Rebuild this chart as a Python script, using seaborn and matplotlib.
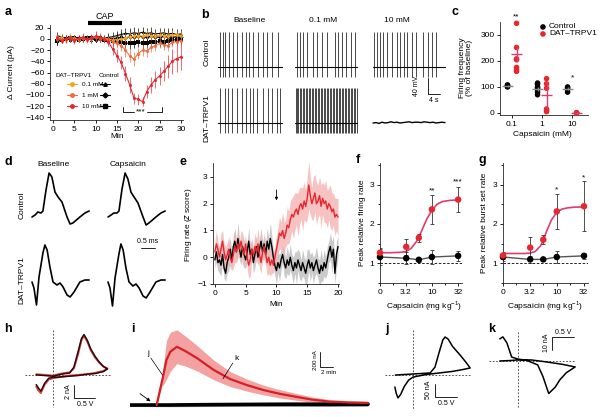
import numpy as np
import matplotlib
matplotlib.use('Agg')
import matplotlib.pyplot as plt
import matplotlib.transforms as mtransforms
import seaborn as sns

sns.set_theme(style='ticks')
plt.rcParams['font.family'] = ['Liberation Sans', 'DejaVu Sans']
plt.rcParams['text.color'] = 'black'
plt.rcParams['axes.labelcolor'] = 'black'
plt.rcParams['xtick.color'] = 'black'
plt.rcParams['ytick.color'] = 'black'
plt.rcParams['axes.linewidth'] = 0.6

# ---------------- data ----------------
# a: change in current over time (min)
minutes = list(range(1, 31))
dat_10 = [2, -3, 0, 2, -2, 1, 3, 0, 2, 5, 3, 0, -5, -18, -30, -42, -62, -82, -106, -108,
          -112, -94, -82, -73, -66, -58, -49, -40, -35, -32]
dat_10_err = [6, 5, 7, 6, 5, 6, 8, 6, 7, 9, 8, 7, 8, 10, 12, 12, 14, 14, 10, 10,
              8, 12, 14, 15, 16, 18, 20, 22, 24, 24]
dat_1 = [3, -2, 0, 2, -3, 0, 2, -1, 1, 4, 2, 0, -2, -5, -8, -12, -20, -30, -36, -26,
         -20, -22, -15, -12, -8, -10, -12, -6, -5, -3]
dat_1_err = [6, 5, 6, 5, 6, 5, 7, 6, 6, 8, 7, 6, 7, 8, 9, 10, 12, 12, 12, 10,
             10, 10, 9, 9, 8, 9, 9, 8, 8, 8]
dat_01 = [0, 2, -2, 3, 1, -1, 2, 0, 1, 3, 2, 1, 0, -2, -1, 0, 2, 4, 5, 6,
          5, 8, 6, 5, 7, 6, 5, 8, 7, 6]
dat_01_err = [5, 6, 5, 7, 6, 5, 6, 5, 6, 7, 6, 5, 6, 7, 6, 7, 8, 8, 7, 8,
              7, 8, 7, 8, 7, 8, 7, 8, 7, 8]
ctl_01 = [6, 3, 1, -1, 2, 3, 0, 2, -1, 0, 2, 1, 3, 4, 6, 8, 10, 9, 11, 10,
          12, 10, 11, 9, 10, 11, 9, 10, 8, 9]
ctl_1 = [-4, -2, 1, 0, -2, 1, 2, 0, 1, -1, 0, 2, 1, 0, 2, 3, 2, 4, 3, 5,
         4, 3, 5, 4, 3, 5, 4, 3, 4, 3]
ctl_10 = [-3, -1, 0, 2, 1, -1, 0, 1, 2, 0, 1, -1, -2, -3, -4, -6, -7, -8, -7, -6,
          -8, -7, -5, -6, -4, -5, -3, -2, -1, 0]
ctl_err = [7, 6, 6, 5, 6, 5, 6, 5, 6, 5, 6, 5, 7, 8, 8, 9, 9, 10, 10, 9,
           10, 9, 10, 9, 10, 9, 10, 9, 10, 9]

# b: spike times (s) in each 20 s sweep
ctl_base_spk = [0.7, 1.7, 2.3, 3.7, 5.0, 6.3, 8.0, 9.3, 10.3, 11.7, 13.3, 15.0, 16.3, 18.0, 20.0]
ctl_01_spk = [0.7, 1.7, 2.7, 4.0, 6.0, 7.3, 9.0, 10.7, 13.3, 14.3, 15.7, 17.0, 18.7, 20.0]
ctl_10_spk = [0.3, 1.3, 2.3, 3.3, 4.7, 6.3, 8.0, 9.0, 10.3, 11.3, 13.0, 14.3, 16.7, 18.3, 19.7, 21.0]
dat_base_spk = [0.7, 2.3, 3.3, 4.7, 6.3, 8.0, 9.3, 10.7, 11.7, 13.0, 15.0, 16.7, 18.0, 19.7, 20.7]
dat_01_spk = [0.2, 0.6, 1.1, 1.5, 2.0, 2.6, 3.0, 3.5, 4.1, 4.6, 5.0, 5.5, 6.1, 6.5, 7.0, 7.6,
              8.1, 8.5, 9.0, 9.6, 10.1, 10.5, 11.0, 11.6, 12.1, 12.5, 13.0, 13.6, 14.1, 14.5,
              15.1, 15.6, 16.0, 16.5, 17.1, 17.6, 18.0, 18.6, 19.1, 19.5, 20.0, 20.5]
dat_10_vm = [0, 1, -1, 2, 0, 1, 3, 1, 2, 0, 1, 2, 3, 1, 2, 2, 1, 3, 2, 1, 2, 0, 1, 2, 1]

# c: firing frequency (% of baseline)
conc_labels = ['0.1', '1', '10']
ctl_freq = [[108, 105, 103, 100, 102], [115, 110, 100, 95, 90, 80, 70], [100, 96, 90, 80]]
dat_freq = [[345, 252, 208, 205, 175, 165, 160], [132, 112, 95, 15, 10, 5], [0, 0, 0, 0]]
ctl_mean = [105, 92, 94]
ctl_sem = [4, 9, 5]
dat_mean = [225, 68, 0]
dat_sem = [30, 52, 3]

# d: action potential waveforms (ms, a.u.)
ap_ctl_t = [0, 0.11, 0.21, 0.32, 0.39, 0.5, 0.61, 0.71, 0.82, 0.93, 1.07, 1.25, 1.36, 1.46, 1.71, 1.89, 2.04]
ap_ctl_base = [0, 0.05, 0.125, 0.1, 0.15, 0.675, 1.1, 1.0, 0.625, 0.5, 0.375, 0, -0.175, -0.15, 0, 0.1, 0.15]
ap_ctl_cap = [0, 0.05, 0.1, 0.1, 0.15, 0.7, 1.1, 0.95, 0.62, 0.5, 0.35, 0, -0.2, -0.15, 0, 0.1, 0.15]
ap_dat_t = [0, 0.07, 0.16, 0.25, 0.39, 0.46, 0.54, 0.64, 0.75, 0.89, 1.0, 1.11, 1.25, 1.36, 1.5, 1.71, 1.89, 2.04]
ap_dat_base = [0, -0.15, -0.575, 0.125, 0.725, 0.925, 0.8, 0.375, 0, -0.075, -0.025, -0.125, -0.325, -0.375, -0.25, 0, 0.05, 0.05]
ap_dat_cap = [0, -0.15, -0.6, 0.1, 0.7, 0.95, 0.8, 0.35, 0, -0.1, -0.05, -0.15, -0.35, -0.4, -0.25, 0, 0.05, 0.05]

# e: firing rate z score, 0.25 min bins
e_red = [0.2, 0.5, 0.3, 0.0, 0.3, 0.6, 0.2, -0.1, 0.1,
         0.3, 0.0, -0.2, 0.1, 0.4, 0.2, 0.5, 0.3,
         0.6, 0.3, 0.1, 0.5, 0.0, -0.3, -0.1, 0.3,
         0.1, 0.4, 0.2, 0.5, 0.1, -0.2, 0.2, 0.4,
         0.1, -0.2, 0.0, -0.3, -0.1, -0.3, 0.0, 0.3,
         0.6, 0.9, 0.8, 1.0, 0.7, 0.9, 1.2, 1.1,
         1.4, 1.6, 1.5, 1.7, 1.8, 1.6, 1.9, 2.0,
         1.8, 2.1, 1.9, 2.2, 2.7, 2.3, 2.0, 2.2,
         2.4, 2.0, 2.1, 2.3, 1.9, 2.2, 2.0, 2.1,
         1.8, 2.0, 1.9, 1.7, 1.8, 1.5, 1.6, 1.5]
e_black = [-0.1, 0.2, -0.2, -0.1, -0.3, 0.1, -0.4, -0.6, -0.2,
           0.0, 0.3, -0.1, 0.4, 0.6, 0.2, 0.7, 0.3,
           0.0, 0.4, 0.1, -0.1, 0.2, 0.6, 0.1, 0.3,
           -0.2, 0.1, 0.4, 0.0, 0.3, 0.6, 0.2, 0.5,
           0.1, 0.6, 0.3, 0.7, 0.4, 0.0, -0.3, -0.5,
           -0.2, -0.4, -0.1, 0.1, -0.2, -0.4, -0.1, -0.3,
           0.0, -0.3, -0.5, -0.2, -0.4, -0.1, -0.3, -0.5,
           -0.2, -0.4, -0.6, -0.3, -0.1, -0.4, -0.2, -0.5,
           -0.3, -0.1, -0.4, -0.6, -0.3, -0.5, -0.2, -0.4,
           -0.1, 0.2, 0.4, 0.0, 0.3, -0.6, 0.1, 0.4]
e_red_err = [0.4, 0.5, 0.3, 0.4, 0.6, 0.4, 0.3, 0.5, 0.4,
             0.5, 0.4, 0.3, 0.5, 0.6, 0.4, 0.5, 0.3,
             0.4, 0.6, 0.5, 0.3, 0.4, 0.5, 0.6, 0.4,
             0.3, 0.5, 0.4, 0.6, 0.5, 0.4, 0.3, 0.5,
             0.4, 0.5, 0.6, 0.4, 0.5, 0.3, 0.4, 0.5,
             0.5, 0.6, 0.5, 0.7, 0.6, 0.5, 0.7, 0.6,
             0.7, 0.6, 0.8, 0.7, 0.6, 0.8, 0.7, 0.6,
             0.8, 0.7, 0.6, 0.8, 0.9, 0.7, 0.6, 0.8,
             0.7, 0.8, 0.6, 0.7, 0.8, 0.6, 0.7, 0.8,
             0.7, 0.6, 0.8, 0.7, 0.6, 0.7, 0.6, 0.7]
e_black_err = [0.3, 0.4, 0.3, 0.5, 0.4, 0.3, 0.4, 0.3, 0.4,
               0.5, 0.4, 0.3, 0.4, 0.5, 0.4, 0.6, 0.4,
               0.3, 0.4, 0.5, 0.3, 0.4, 0.5, 0.4, 0.3,
               0.4, 0.5, 0.4, 0.3, 0.4, 0.5, 0.4, 0.3,
               0.4, 0.5, 0.4, 0.6, 0.4, 0.3, 0.4, 0.5,
               0.4, 0.5, 0.4, 0.3, 0.5, 0.4, 0.5, 0.4,
               0.5, 0.4, 0.5, 0.4, 0.6, 0.4, 0.5, 0.4,
               0.5, 0.4, 0.5, 0.6, 0.4, 0.5, 0.4, 0.5,
               0.4, 0.5, 0.4, 0.5, 0.6, 0.4, 0.5, 0.4,
               0.5, 0.4, 0.5, 0.6, 0.5, 0.4, 0.5, 0.4]

# f, g: dose response (mg/kg)
doses = [0, 3.2, 5.6, 10, 32]
f_red = [1.27, 1.42, 1.65, 2.37, 2.62]
f_red_err = [0.13, 0.2, 0.1, 0.36, 0.32]
f_black = [1.16, 1.13, 1.09, 1.16, 1.19]
f_black_err = [0.2, 0.15, 0.05, 0.18, 0.12]
g_red = [1.2, 1.4, 1.6, 2.32, 2.45]
g_red_err = [0.08, 0.27, 0.12, 0.45, 0.63]
g_black = [1.16, 1.1, 1.1, 1.16, 1.19]
g_black_err = [0.1, 0.08, 0.05, 0.16, 0.08]
fit_logdose = [0, 0.2, 0.4, 0.5, 0.6, 0.7, 0.75, 0.8, 0.9, 1.0, 1.1, 1.2, 1.35, 1.5]
fit_f = [1.27, 1.27, 1.28, 1.3, 1.38, 1.55, 1.67, 1.82, 2.12, 2.35, 2.5, 2.57, 2.6, 2.61]
fit_g = [1.25, 1.25, 1.25, 1.26, 1.3, 1.45, 1.58, 1.78, 2.1, 2.3, 2.38, 2.41, 2.43, 2.43]

# h, j, k: cyclic voltammograms (V, nA)
h_V = [-0.40, -0.20, 0.00, 0.20, 0.40, 0.50, 0.60, 0.68, 0.74, 0.82, 0.90, 1.00, 1.10, 1.20,
       1.30, 1.20, 1.00, 0.80, 0.60, 0.40, 0.20, 0.00, -0.10, -0.20, -0.29, -0.35, -0.40]
h_black = [0.0, -0.1, -0.2, 0.1, 0.3, 1.2, 3.6, 5.6, 6.2, 5.3, 4.0, 2.9, 2.0, 1.3,
           0.9, 0.5, 0.2, 0.1, -0.1, -0.2, -0.3, -0.4, -0.5, -1.3, -2.5, -2.0, -1.5]
h_red = [0.1, 0.0, -0.1, 0.2, 0.4, 1.0, 3.2, 5.3, 6.0, 5.1, 3.8, 2.7, 1.9, 1.3,
         1.0, 0.6, 0.3, 0.1, 0.0, -0.1, -0.3, -0.5, -0.7, -1.5, -2.8, -2.4, -1.8]
j_V = [-0.40, -0.20, 0.00, 0.20, 0.39, 0.50, 0.60, 0.68, 0.73, 0.80, 0.90, 1.07, 1.20, 1.30,
       1.10, 0.90, 0.60, 0.30, 0.00, -0.10, -0.20, -0.28, -0.34, -0.38, -0.41]
j_I = [0, 2, 4, 6, 8, 30, 90, 135, 146, 138, 110, 77, 50, 27,
       20, 14, 8, 2, -8, -20, -45, -75, -88, -70, -46]
k_V = [-0.41, -0.34, -0.25, -0.14, 0.00, 0.20, 0.45, 0.57, 0.70, 0.85, 0.95, 1.10, 1.30,
       1.00, 0.60, 0.30, 0.00, -0.20, -0.41]
k_I = [17, 18.5, 14, 3, 1.5, 0.5, -3, -12, -25, -20, -14.6, -9, -4.6,
       -2.5, -0.5, 0.8, 0.8, 0.3, 0]

# i: dopamine current over time (min, nA)
i_t = [4.1, 4.9, 5.1, 5.6, 6.2, 7.2, 8.5, 10.3, 12.9, 15.4, 18.0, 20.5, 23.0, 25.7, 28.0, 30.8, 33.8, 36.6]
i_red = [0, 311, 387, 600, 710, 777, 720, 625, 466, 346, 265, 200, 150, 107, 72, 44, 33, 27]
i_sem = [0, 60, 120, 260, 260, 225, 200, 170, 130, 100, 80, 65, 55, 45, 35, 28, 25, 25]
i_black_t = [0, 6, 12, 18, 24, 30, 36.6]
i_black = [0, 0, 5, 8, 10, 10, 12]
i_black_sem = [20, 22, 25, 25, 28, 30, 30]

RED = '#e8262d'
PINK = '#dd3d6e'

# ---------------- figure ----------------
W, H = 600, 417
fig = plt.figure(figsize=(6, 4.17), dpi=100)
PX = mtransforms.Affine2D().scale(1 / W, -1 / H).translate(0, 1) + fig.transFigure


def add_ax(x0, y0, x1, y1):
    return fig.add_axes([x0 / W, 1 - y1 / H, (x1 - x0) / W, (y1 - y0) / H])


def txt(x, y, s, **kw):
    kw.setdefault('ha', 'center')
    kw.setdefault('va', 'center')
    kw.setdefault('fontsize', 6)
    fig.text(x, y, s, transform=PX, **kw)


def style(ax):
    sns.despine(ax=ax)
    ax.tick_params(direction='out', length=2.5, width=0.6, labelsize=6, pad=1.5)
    ax.tick_params(which='minor', length=1.5, width=0.6)
    ax.set_facecolor('none')


def labels(ax, xl, xpos, yl, ypos):
    if xl:
        ax.set_xlabel(xl, fontsize=6, va='center', ha='center')
        ax.xaxis.set_label_coords(*xpos, transform=PX)
    if yl:
        ax.set_ylabel(yl, fontsize=6, va='center', ha='center', linespacing=1.1)
        ax.yaxis.set_label_coords(*ypos, transform=PX)


for letter, (lx, ly) in {'a': (8, 12), 'b': (205, 15), 'c': (455, 12), 'd': (8, 162),
                         'e': (183, 162), 'f': (358, 160), 'g': (482, 160), 'h': (8, 329),
                         'i': (133, 329), 'j': (387, 329), 'k': (492, 329)}.items():
    txt(lx, ly, letter, fontsize=9, fontweight='bold')

# ---- a ----
ax = add_ax(50, 25, 183, 120)
style(ax)
series_a = [(ctl_10, ctl_err, 'black', 's'), (ctl_1, ctl_err, 'black', 'D'),
            (ctl_01, ctl_err, 'black', '^'), (dat_01, dat_01_err, '#f5a31a', 'o'),
            (dat_1, dat_1_err, '#f26a3d', 'o'), (dat_10, dat_10_err, RED, 'o')]
for vals, err, col, mk in series_a:
    v = np.array(vals)
    e = np.array(err)
    ax.vlines(minutes, v - e, v + e, color=col, lw=0.6, alpha=0.8)
    sns.lineplot(x=minutes, y=vals, ax=ax, color=col, lw=0.8, marker=mk, markersize=2.2,
                 markeredgewidth=0)
ax.set_xlim(-0.7, 30.5)
ax.set_ylim(-145, 25)
ax.set_xticks(range(0, 31, 5))
ax.set_yticks(range(-140, 21, 20))
labels(ax, 'Min', (117, 137), 'Δ Current (pA)', (12, 72))
ax.plot([8.2, 16.2], [28.6, 28.6], color='black', lw=3, clip_on=False, solid_capstyle='butt')
ax.text(12.2, 41, 'CAP', ha='center', va='center', fontsize=6.5)
# legend
ax.text(0.6, -66, 'DAT–TRPV1', fontsize=4.6, va='center')
ax.text(10.6, -66, 'Control', fontsize=4.6, va='center')
for (name, col, mk, yv) in [('0.1 mM', '#f5a31a', '^', -80.6), ('1 mM', '#f26a3d', 'D', -100.3),
                            ('10 mM', RED, 's', -120)]:
    ax.plot([3.3, 5.6], [yv, yv], color=col, lw=0.8)
    ax.plot([4.45], [yv], color=col, marker='o', ms=2.5)
    ax.text(6.8, yv, name, fontsize=4.6, va='center')
    ax.plot([11.0, 13.4], [yv, yv], color='black', lw=0.8)
    ax.plot([12.2], [yv], color='black', marker=mk, ms=2.5)
ax.plot([16.4, 16.4, 19.0], [-122, -131, -131], color='black', lw=0.6)
ax.plot([22.0, 25.6, 25.6], [-131, -131, -122], color='black', lw=0.6)
ax.text(20.5, -131, '***', ha='center', va='center', fontsize=6)

# ---- b ----
ax = add_ax(215, 28, 450, 140)
ax.set_axis_off()
ax.set_xlim(-1, 77.33)
ax.set_ylim(-182.5, 97.5)
sweeps = [(0, 21.3, ctl_base_spk, 0), (25.67, 20.7, ctl_01_spk, 0), (51.67, 24, ctl_10_spk, 0),
          (0, 21.3, dat_base_spk, -140), (25.67, 20.7, dat_01_spk, -140)]
for start, dur, spk, off in sweeps:
    ax.plot([start, start + dur], [off, off], color='black', lw=0.8)
    ax.vlines(start + np.array(spk), off - 25, off + 88, color='black', lw=0.5)
ax.plot(51.67 + np.linspace(0, 24, len(dat_10_vm)), -140 + np.array(dat_10_vm),
        color='black', lw=1.0)
ax.plot([70, 70, 74], [-27.5, -67.5, -67.5], color='black', lw=0.6)
ax.text(66, -47.5, '40 mV', rotation=90, ha='center', va='center', fontsize=5)
ax.text(72, -85, '4 s', ha='center', va='center', fontsize=5)
txt(250, 20, 'Baseline')
txt(323, 20, '0.1 mM')
txt(397, 20, '10 mM')
txt(207, 52, 'Control', rotation=90)
txt(207, 118, 'DAT–TRPV1', rotation=90)

# ---- c ----
ax = add_ax(500, 22, 588, 115)
style(ax)
for i, (cf, df) in enumerate(zip(ctl_freq, dat_freq)):
    sns.scatterplot(x=[i - 0.15] * len(cf), y=cf, ax=ax, color='black', s=16,
                    edgecolor='none', zorder=3)
    sns.scatterplot(x=[i + 0.15] * len(df), y=df, ax=ax, color=RED, s=16,
                    edgecolor='none', zorder=3, clip_on=False)
    ax.hlines(ctl_mean[i], i - 0.32, i + 0.02, color='#8a8a8a', lw=1.0, zorder=4)
    ax.vlines(i - 0.15, ctl_mean[i] - ctl_sem[i], ctl_mean[i] + ctl_sem[i], color='#8a8a8a',
              lw=1.0, zorder=4)
    ax.hlines(dat_mean[i], i - 0.02, i + 0.32, color=PINK, lw=1.0, zorder=4, clip_on=False)
    ax.vlines(i + 0.15, dat_mean[i] - dat_sem[i], dat_mean[i] + dat_sem[i], color=PINK,
              lw=1.0, zorder=4, clip_on=False)
ax.set_xlim(-0.4, 2.53)
ax.set_ylim(-8, 350)
ax.set_xticks(range(3))
ax.set_xticklabels(conc_labels)
ax.set_yticks([0, 100, 200, 300])
labels(ax, 'Capsaicin (mM)', (542, 135), 'Firing frequency\n(% of baseline)', (466, 68))
ax.text(0.15, 369, '**', ha='center', va='center', fontsize=6)
ax.text(2.0, 135, '*', ha='center', va='center', fontsize=6)
ax.scatter([1.03], [331], color='black', s=16, edgecolor='none', clip_on=False)
ax.scatter([1.03], [304], color=RED, s=16, edgecolor='none', clip_on=False)
ax.text(1.23, 331, 'Control', fontsize=6, va='center')
ax.text(1.23, 304, 'DAT–TRPV1', fontsize=6, va='center')

# ---- d ----
ax = add_ax(28, 165, 170, 315)
ax.set_axis_off()
ax.set_xlim(0, 5.07)
ax.set_ylim(-2.45, 1.3)
for t0, tt, vv, off in [(0.143, ap_ctl_t, ap_ctl_base, 0), (2.857, ap_ctl_t, ap_ctl_cap, 0),
                        (0.143, ap_dat_t, ap_dat_base, -1.625), (2.857, ap_dat_t, ap_dat_cap, -1.625)]:
    ax.plot(t0 + np.array(tt), off + np.array(vv), color='black', lw=1.2)
ax.plot([4.03, 4.53], [-0.775, -0.775], color='black', lw=0.6)
txt(148, 242, '0.5 ms', fontsize=5)
txt(53, 165, 'Baseline')
txt(128, 165, 'Capsaicin')
txt(22, 205, 'Control', rotation=90)
txt(22, 280, 'DAT–TRPV1', rotation=90)

# ---- e ----
ax = add_ax(213, 163, 339, 284)
style(ax)
e_t = np.linspace(0, 20, len(e_red))
for vals, err, col, shade in [(e_black, e_black_err, 'black', '#bdbdbd'),
                              (e_red, e_red_err, RED, '#f6b3b3')]:
    v = np.array(vals)
    e = np.array(err)
    ax.fill_between(e_t, v - e, v + e, color=shade, lw=0, alpha=0.8)
    sns.lineplot(x=e_t, y=vals, ax=ax, color=col, lw=1.0)
ax.set_xlim(-0.3, 20.16)
ax.set_ylim(-1, 3.52)
ax.set_xticks([0, 5, 10, 15, 20])
ax.set_yticks([-1, 0, 1, 2, 3])
ax.annotate('', xy=(10, 2.02), xytext=(10, 2.62),
            arrowprops=dict(arrowstyle='-|>', color='black', lw=0.6, mutation_scale=4))
labels(ax, 'Min', (276, 305), 'Firing rate ($\\mathit{z}$ score)', (188, 225))


# ---- f, g ----
def dose_panel(rect, red, red_err, black, black_err, fit, ylab, ylab_x, xlab_x, stars):
    ax = add_ax(*rect)
    style(ax)
    pos = np.log10(np.maximum(np.array(doses), 1))
    ax.axhline(1, color='black', lw=0.6, ls=(0, (3, 2)))
    sns.lineplot(x=pos, y=black, ax=ax, color='#555555', lw=1.0)
    ax.errorbar(pos, black, yerr=black_err, fmt='none', ecolor='#333333', elinewidth=0.6,
                capsize=1.5, capthick=0.6)
    ax.scatter(pos, black, color='black', s=22, edgecolor='none', zorder=3, clip_on=False)
    sns.lineplot(x=fit_logdose, y=fit, ax=ax, color=PINK, lw=1.2)
    ax.errorbar(pos, red, yerr=red_err, fmt='none', ecolor='#333333', elinewidth=0.6,
                capsize=1.5, capthick=0.6)
    ax.scatter(pos, red, color=RED, s=22, edgecolor='none', zorder=4, clip_on=False)
    for px_, py_, s in stars:
        ax.text(px_, py_, s, ha='center', va='center', fontsize=6)
    ax.set_xlim(0, 1.58)
    ax.set_ylim(0.5, 3.55)
    ax.set_xticks([0, 0.5, 1, 1.5])
    ax.set_xticklabels(['0', '3.2', '10', '32'])
    ax.set_xticks([0.25, 0.75, 1.25], minor=True)
    ax.set_yticks([1, 2, 3])
    ax.set_yticks([0.5, 1.5, 2.5, 3.5], minor=True)
    labels(ax, 'Capsaicin (mg kg$^{\\mathregular{-1}}$)', (xlab_x, 306), ylab, (ylab_x, 223))


dose_panel((380, 163, 462, 283), f_red, f_red_err, f_black, f_black_err, fit_f,
           'Peak relative firing rate', 362, 424, [(1, 2.84, '**'), (1.5, 3.07, '***')])
dose_panel((503, 163, 588, 283), g_red, g_red_err, g_black, g_black_err, fit_g,
           'Peak relative burst set rate', 485, 545, [(1, 2.86, '*'), (1.5, 3.16, '*')])


# ---- h, j, k ----
def cv_panel(rect, xlim, ylim, curves, dash_v, dash_h, bar, bar_txt):
    ax = add_ax(*rect)
    ax.set_axis_off()
    ax.set_xlim(*xlim)
    ax.set_ylim(*ylim)
    ax.plot([0, 0], dash_v, color='#333333', lw=0.6, ls=(0, (2, 2)))
    ax.plot(dash_h, [0, 0], color='#333333', lw=0.6, ls=(0, (2, 2)))
    for vv, ii, col, lw in curves:
        ax.plot(vv, ii, color=col, lw=lw)
    ax.plot(*bar, color='black', lw=0.6)
    for x_, y_, s, rot in bar_txt:
        ax.text(x_, y_, s, ha='center', va='center', fontsize=5, rotation=rot)


cv_panel((22, 330, 115, 410), (-0.74, 1.48), (-5.4, 6.9),
         [(h_V, h_red, '#e0454b', 1.4), (h_V, h_black, '#2a0808', 1.1)],
         (6.9, -4.9), (-0.67, 1.36),
         ([0.5, 0.5, 1.0], [-1.54, -3.54, -3.54]),
         [(0.36, -2.6, '2 nA', 90), (0.76, -4.5, '0.5 V', 0)])
cv_panel((383, 330, 475, 412), (-0.68, 1.41), (-142, 173),
         [(j_V, j_I, 'black', 1.1)],
         (173, -135), (-0.64, 1.3),
         ([0.5, 0.5, 1.0], [-35, -85, -85]),
         [(0.36, -58, '50 nA', 90), (0.75, -108, '0.5 V', 0)])
cv_panel((487, 330, 580, 412), (-0.70, 1.41), (-39.2, 23.8),
         [(k_V, k_I, 'black', 1.1)],
         (22.3, -36.2), (-0.66, 1.3),
         ([1.27, 0.77, 0.77], [18.5, 18.5, 8.5]),
         [(1.02, 21.5, '0.5 V', 0), (0.64, 13.8, '10 nA', 90)])

# ---- i ----
ax = add_ax(130, 325, 370, 412)
ax.set_axis_off()
ax.set_xlim(0, 36.9)
ax.set_ylim(-93, 1067)
bt = np.array(i_black)
bs = np.array(i_black_sem)
ax.fill_between(i_black_t, bt - bs, bt + bs, color='#9a9a9a', lw=0)
sns.lineplot(x=i_black_t, y=i_black, ax=ax, color='black', lw=2.6)
rt = np.array(i_red)
rs = np.array(i_sem)
ax.fill_between(i_t, rt - rs, rt + rs, color='#f08a8a', lw=0, alpha=0.8)
sns.lineplot(x=i_t, y=i_red, ax=ax, color='#d42027', lw=1.6)
ax.annotate('', xy=(3.5, 27), xytext=(1.2, 173),
            arrowprops=dict(arrowstyle='-|>', color='black', lw=0.6, mutation_scale=5))
ax.plot([3.2, 5.0], [627, 400], color='black', lw=0.5)
ax.text(2.8, 693, 'j', ha='center', va='center', fontsize=6)
ax.plot([15.8, 14.3], [560, 350], color='black', lw=0.5)
ax.text(16.3, 627, 'k', ha='center', va='center', fontsize=6)
ax.plot([29.2, 29.2, 31.2], [707, 507, 507], color='black', lw=0.6)
ax.text(28.5, 600, '200 nA', rotation=90, ha='center', va='center', fontsize=4.5)
ax.text(30.6, 440, '2 min', ha='center', va='center', fontsize=4.5)

fig.savefig('out.png', dpi=100)
